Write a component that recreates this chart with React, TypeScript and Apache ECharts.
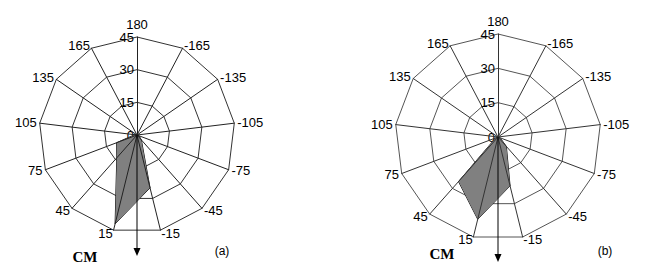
import React, { useEffect, useRef } from "react";
import * as echarts from "echarts";

// Directions (degrees), listed counter-clockwise starting from the top
const directions = ["180", "165", "135", "105", "75", "45", "15", "-15", "-45", "-75", "-105", "-135", "-165"];
const radialMax = 45;
const radialSplits = 3; // ticks 0, 15, 30, 45

// (a) values per direction, same order as directions
const valuesA = [0, 0, 0.5, 1, 10, 14, 42, 25, 3, 1, 0.5, 0.5, 0];
// (b) values per direction
const valuesB = [0, 0, 0.5, 0.5, 1, 26, 37, 22, 5.5, 1, 0.5, 0.5, 0];

const panelLabels = ["(a)", "(b)"];
const arrowLabel = "CM";

const FONT = "Liberation Sans";

function baseRadar(center: number[], radius: number, color: string) {
  return {
    center,
    radius,
    startAngle: 90,
    shape: "polygon",
    splitNumber: radialSplits,
    z: 0,
    indicator: directions.map((d, i) => {
      const ind: any = { name: d, min: 0, max: radialMax };
      if (i === 0) ind.axisLabel = { show: true };
      return ind;
    }),
    axisName: { color: "#000", fontSize: 13, fontFamily: FONT },
    nameGap: 3,
    axisLabel: { show: false, color: "#000", fontSize: 13, fontFamily: FONT, margin: 3 },
    axisLine: { show: false },
    axisTick: { show: false },
    splitLine: { show: true, lineStyle: { color, width: 1 } },
    splitArea: { show: false },
  };
}

function topRadar(center: number[], radius: number, color: string) {
  return {
    center,
    radius,
    startAngle: 90,
    shape: "polygon",
    splitNumber: radialSplits,
    z: 3,
    indicator: directions.map((d) => ({ name: d, min: 0, max: radialMax })),
    axisName: { show: false },
    axisLabel: { show: false },
    axisLine: { show: true, lineStyle: { color, width: 1 } },
    axisTick: { show: false },
    splitLine: { show: false },
    splitArea: { show: false },
  };
}

function arrow(cx: number, cy: number, tipY: number) {
  return [
    { type: "line", z: 10, shape: { x1: cx, y1: cy, x2: cx, y2: tipY - 6 }, style: { stroke: "#000", lineWidth: 1 } },
    {
      type: "polygon",
      z: 10,
      shape: { points: [[cx - 3.5, tipY - 8], [cx + 3.5, tipY - 8], [cx, tipY]] },
      style: { fill: "#000" },
    },
  ];
}

export default function App() {
  const ref = useRef<HTMLDivElement>(null);
  useEffect(() => {
    if (!ref.current) return;
    const chart = echarts.init(ref.current, undefined, { renderer: "svg" });
    const cA = [137, 135];
    const rA = 98;
    const cB = [498, 137];
    const rB = 103;
    chart.setOption({
      animation: false,
      backgroundColor: "#fff",
      radar: [
        baseRadar(cA, rA, "#333"),
        topRadar(cA, rA, "#222"),
        baseRadar(cB, rB, "#555"),
        topRadar(cB, rB, "#333"),
      ],
      series: [
        {
          type: "radar",
          radarIndex: 0,
          z: 2,
          symbol: "none",
          lineStyle: { color: "#000", width: 1 },
          areaStyle: { color: "#808080", opacity: 1 },
          data: [{ value: valuesA }],
        },
        {
          type: "radar",
          radarIndex: 2,
          z: 2,
          symbol: "none",
          lineStyle: { color: "#000", width: 1 },
          areaStyle: { color: "#808080", opacity: 1 },
          data: [{ value: valuesB }],
        },
      ],
      graphic: [
        ...arrow(cA[0], cA[1], 256),
        ...arrow(cB[0], cB[1], 262),
        {
          type: "text",
          x: 85,
          y: 257,
          style: { text: arrowLabel, font: "bold 15px 'Liberation Serif'", fill: "#000", align: "center", verticalAlign: "middle" },
        },
        {
          type: "text",
          x: 442,
          y: 254,
          style: { text: arrowLabel, font: "bold 15px 'Liberation Serif'", fill: "#000", align: "center", verticalAlign: "middle" },
        },
        {
          type: "text",
          x: 222,
          y: 251,
          style: { text: panelLabels[0], font: `12px '${FONT}'`, fill: "#000", align: "center", verticalAlign: "middle" },
        },
        {
          type: "text",
          x: 605,
          y: 251,
          style: { text: panelLabels[1], font: `12px '${FONT}'`, fill: "#000", align: "center", verticalAlign: "middle" },
        },
      ],
    });
    return () => chart.dispose();
  }, []);
  return (
    <div
      ref={ref}
      style={{ position: "fixed", left: 0, top: 0, width: 645, height: 271, background: "#fff" }}
    />
  );
}
